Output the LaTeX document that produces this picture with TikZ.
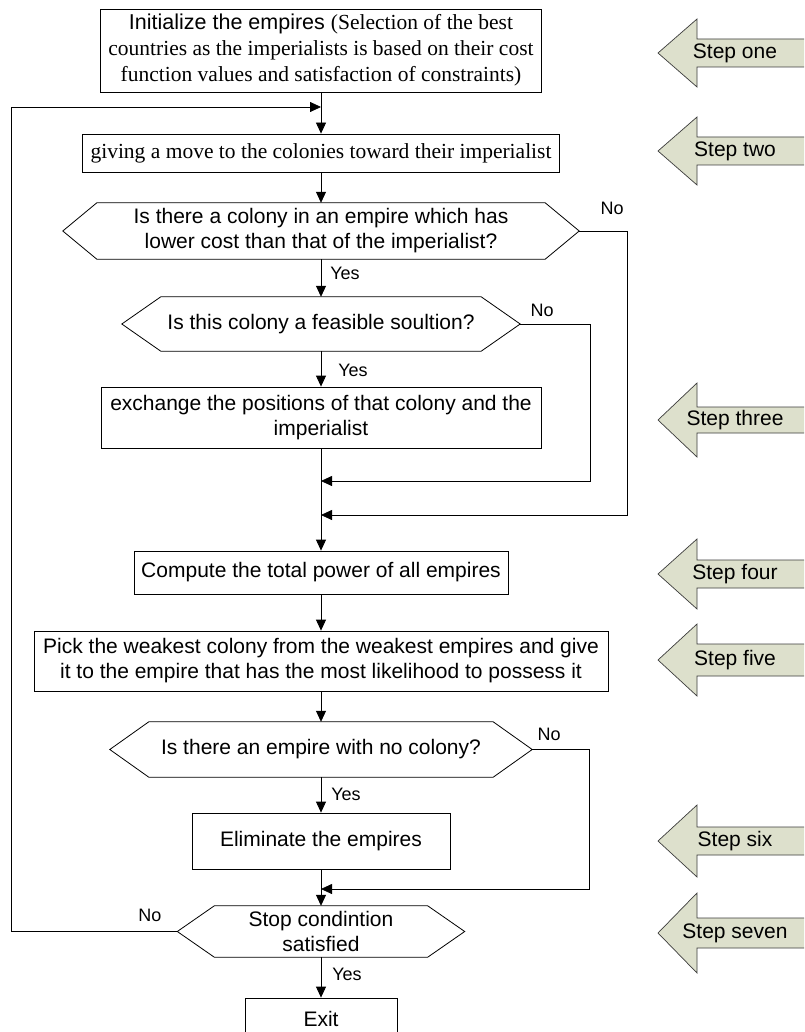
\documentclass[tikz,border=0pt]{standalone}
\usepackage{fontspec}
\setmainfont{Liberation Sans}
\newfontfamily\tnr{Liberation Serif}
\usetikzlibrary{arrows.meta}
\definecolor{stepfill}{RGB}{221,224,204}
\definecolor{stepline}{RGB}{60,60,60}
\newcommand\hexdraw[2]{\draw[hexline] (#1.west) -- ([xshift=#2pt]#1.north west) -- ([xshift=-#2pt]#1.north east) -- (#1.east) -- ([xshift=-#2pt]#1.south east) -- ([xshift=#2pt]#1.south west) -- cycle;}
\newcommand\steparrow[5]{%
  \draw[stepshape] (806,#2-#4) -- (697,#2-#4) -- (697,#2-#3) -- (658,#2) -- (697,#2+#3) -- (697,#2+#4) -- (806,#2+#4);
  \node[steptxt] (#1) at (735,#2) {#5};}
\begin{document}
\begin{tikzpicture}[x=1pt,y=-1pt,
  box/.style={draw, line width=0.8pt, inner sep=0pt, align=center, font=\fontsize{21}{25}\selectfont},
  hexnode/.style={inner sep=0pt, align=center, font=\fontsize{21}{25}\selectfont},
  hexline/.style={draw, line width=0.8pt},
  conn/.style={line width=0.8pt, -{Triangle[length=11pt,width=10pt]}},
  lbl/.style={font=\fontsize{18}{20}\selectfont, inner sep=0pt},
  steptxt/.style={font=\fontsize{21}{25}\selectfont, inner sep=0pt},
  stepshape/.style={fill=stepfill, draw=stepline, line width=0.7pt}
]
\useasboundingbox (0,0) rectangle (804,1032);
\clip (0,0) rectangle (804,1032);
\fill[white] (0,0) rectangle (804,1032);

% step arrows
\steparrow{s1}{53}{34}{14}{Step one}
\steparrow{s2}{151}{34}{14}{Step two}
\steparrow{s3}{420}{37}{13}{Step three}
\steparrow{s4}{574}{35}{14}{Step four}
\steparrow{s5}{660}{36}{16}{Step five}
\steparrow{s6}{841}{36}{14}{Step six}
\steparrow{s7}{933}{40}{15}{Step seven}

% nodes
\node[box, minimum width=441pt, minimum height=83pt, font=\fontsize{21.5}{26}\selectfont] (init) at (321,50.5)
  {Initialize the empires {\tnr (Selection of the best}\\{\tnr countries as the imperialists is based on their cost}\\{\tnr function values and satisfaction of constraints)}};
\node[box, minimum width=477pt, minimum height=38pt, font=\fontsize{21.5}{25}\selectfont] (give) at (321,153)
  {\tnr giving a move to the colonies toward their imperialist};
\node[hexnode, minimum width=516pt, minimum height=56pt] (h1) at (321,231)
  {Is there a colony in an empire which has\\lower cost than that of the imperialist?};
\hexdraw{h1}{34}
\node[hexnode, minimum width=398pt, minimum height=54pt] (h2) at (321,324)
  {Is this colony a feasible soultion?};
\hexdraw{h2}{39}
\node[box, minimum width=440pt, minimum height=61pt] (ex) at (321,417.5)
  {exchange the positions of that colony and the\\imperialist};
\node[box, minimum width=374pt, minimum height=43pt] (cp) at (321,572.5)
  {Compute the total power of all empires};
\node[box, minimum width=574pt, minimum height=60pt] (pk) at (321,661)
  {Pick the weakest colony from the weakest empires and give\\it to the empire that has the most likelihood to possess it};
\node[hexnode, minimum width=422pt, minimum height=55pt] (h3) at (321,749.5)
  {Is there an empire with no colony?};
\hexdraw{h3}{39}
\node[box, minimum width=258pt, minimum height=56pt] (el) at (321,841)
  {Eliminate the empires};
\node[hexnode, minimum width=287pt, minimum height=51pt] (h4) at (321,931.5)
  {Stop condintion\\satisfied};
\hexdraw{h4}{37}
\node[box, minimum width=152pt, minimum height=50pt] (exit) at (321,1023)
  {\raisebox{8pt}{Exit}};

% merge points
\coordinate (m1) at (321,481);
\coordinate (m2) at (321,515);
\coordinate (m3) at (321,889);
\coordinate (lp) at (321,107);

% connectors
\draw[conn] (init.south) -- (give.north);
\draw[conn] (give.south) -- (h1.north);
\draw[conn] (h1.south) -- (h2.north);
\draw[conn] (h2.south) -- (ex.north);
\draw[conn] (ex.south) -- (cp.north);
\draw[conn] (cp.south) -- (pk.north);
\draw[conn] (pk.south) -- (h3.north);
\draw[conn] (h3.south) -- (el.north);
\draw[conn] (el.south) -- (h4.north);
\draw[conn] (h4.south) -- (exit.north);
\draw[conn] (h2.east) -- ++(70,0) |- (m1);
\draw[conn] (h1.east) -- ++(48,0) |- (m2);
\draw[conn] (h3.east) -- ++(57,0) |- (m3);
\draw[conn] (h4.west) -- ++(-165.5,0) |- (lp);

% labels
\node[lbl] (no1) at (612,208) {No};
\node[lbl] (yes1) at (345,273) {Yes};
\node[lbl] (no2) at (542,310) {No};
\node[lbl] (yes2) at (353,370) {Yes};
\node[lbl] (no3) at (549,734) {No};
\node[lbl] (yes3) at (346,794) {Yes};
\node[lbl] (no4) at (150,915) {No};
\node[lbl] (yes4) at (347,974) {Yes};
\end{tikzpicture}
\end{document}
